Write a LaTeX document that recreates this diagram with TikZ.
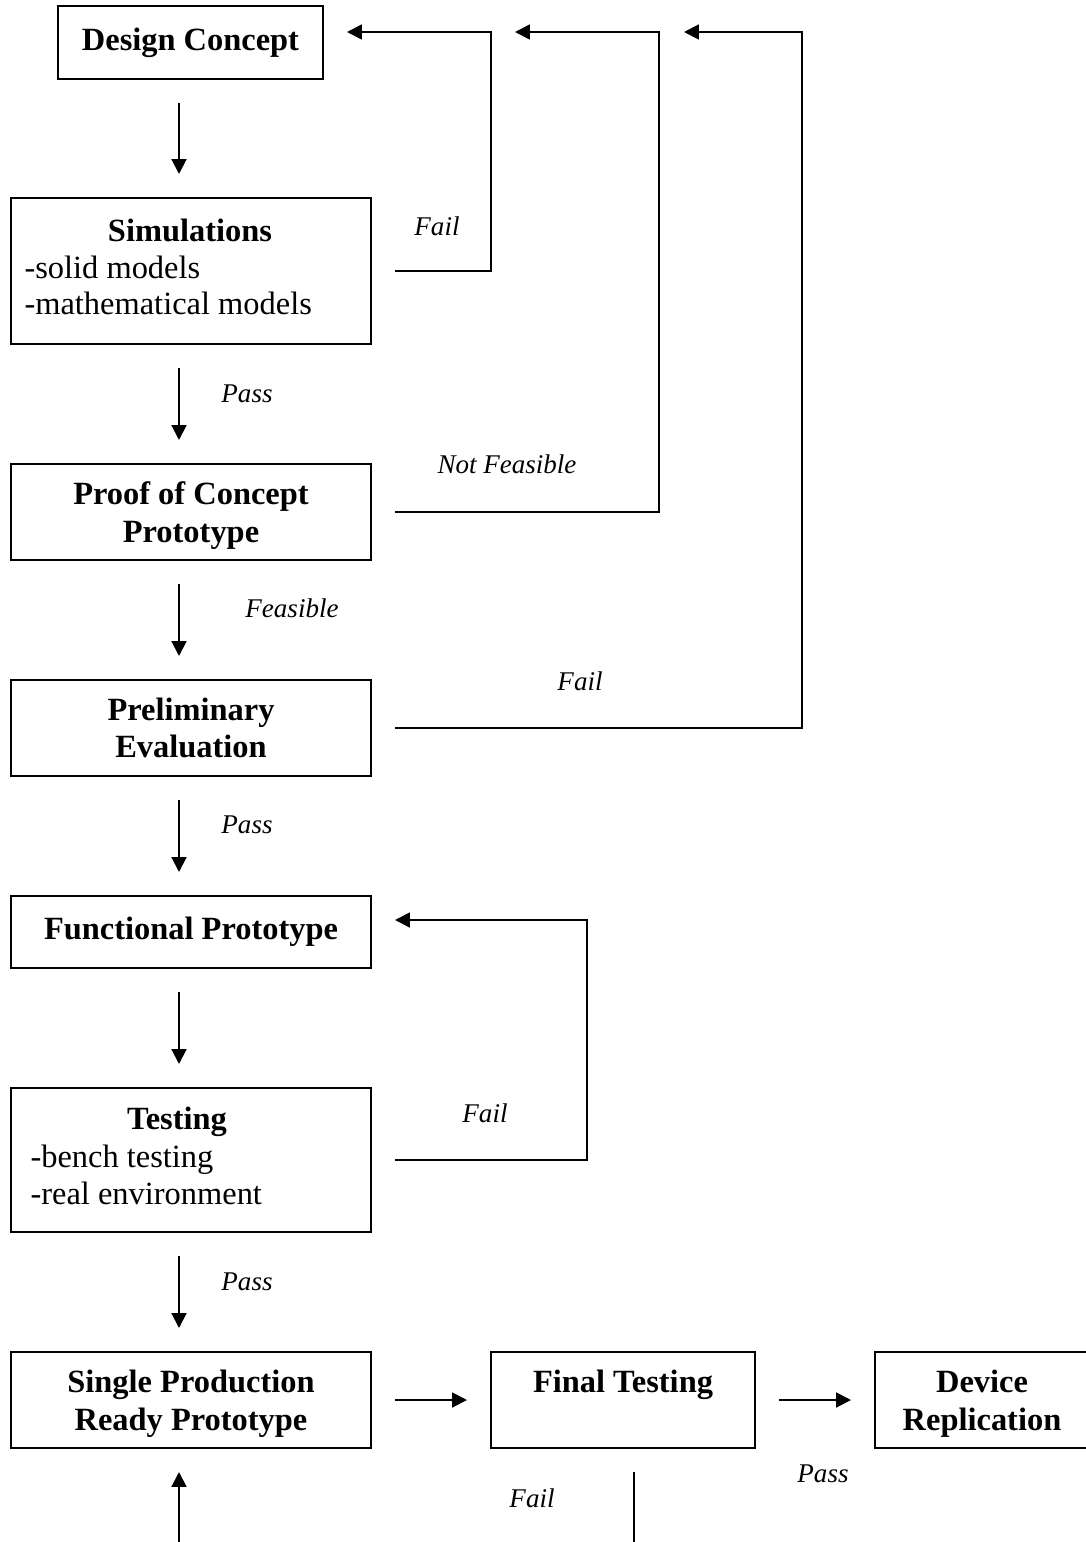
\documentclass[tikz,border=0pt]{standalone}
\usepackage{fontspec}
\setmainfont{Liberation Serif}
\usetikzlibrary{arrows.meta}
\newcommand{\pxu}{0.37pt}
\tikzset{
  box/.style={draw,line width=2*\pxu,inner sep=0pt,outer sep=24*\pxu,align=center,font={\fontsize{12}{14}\selectfont\bfseries}},
  boxtext/.style={inner sep=0pt,anchor=base,font={\fontsize{12}{14}\selectfont}},
  tag/.style={inner sep=0pt,anchor=base,font={\fontsize{10}{12}\selectfont\itshape}},
  flow/.style={line width=2*\pxu,-{Triangle[length=5.5pt,width=5.5pt]}},
  wire/.style={line width=2*\pxu}
}
\begin{document}
\begin{tikzpicture}[x=\pxu,y=-\pxu]
\useasboundingbox (0,0) rectangle (1086,1542);
% main column
\node (design) at (190.5,42.5) [box,minimum width=265*\pxu,minimum height=73*\pxu] {Design Concept};
\node (sim) at (191,271) [box,minimum width=360*\pxu,minimum height=146*\pxu] {};
\node (simhead) at (190,241) [boxtext,font={\fontsize{12}{14}\selectfont\bfseries}] {Simulations};
\node (simitema) at (24,278) [boxtext,anchor=base west] {-solid models};
\node (simitemb) at (24,314) [boxtext,anchor=base west] {-mathematical models};
\node (proof) at (191,512) [box,minimum width=360*\pxu,minimum height=96*\pxu,text depth=0pt] {Proof of Concept\\Prototype};
\node (prelim) at (191,728) [box,minimum width=360*\pxu,minimum height=96*\pxu] {Preliminary\\Evaluation};
\node (func) at (191,932) [box,minimum width=360*\pxu,minimum height=72*\pxu] {Functional Prototype};
\node (test) at (191,1160) [box,minimum width=360*\pxu,minimum height=144*\pxu] {};
\node (testhead) at (177,1129) [boxtext,font={\fontsize{12}{14}\selectfont\bfseries}] {Testing};
\node (testitema) at (30,1167) [boxtext,anchor=base west] {-bench testing};
\node (testitemb) at (30,1204) [boxtext,anchor=base west] {-real environment};
\node (single) at (191,1400) [box,minimum width=360*\pxu,minimum height=96*\pxu,text depth=0pt] {Single Production\\Ready Prototype};
% bottom row
\node (final) at (623,1400) [box,minimum width=264*\pxu,minimum height=96*\pxu] {Final Testing\\~};
\node (device) at (982,1400) [box,minimum width=214*\pxu,minimum height=96*\pxu,text depth=0pt] {Device\\Replication};
% down arrows
\coordinate (col) at (179,0);
\draw[flow] (design.south -| col) -- (sim.north -| col);
\draw[flow] (sim.south -| col) -- (proof.north -| col);
\draw[flow] (proof.south -| col) -- (prelim.north -| col);
\draw[flow] (prelim.south -| col) -- (func.north -| col);
\draw[flow] (func.south -| col) -- (test.north -| col);
\draw[flow] (test.south -| col) -- (single.north -| col);
\draw[flow] (single) -- (final);
\draw[flow] (final) -- (device);
% loops back
\coordinate (loopa) at (491,32);
\coordinate (loopb) at (659,32);
\coordinate (loopc) at (802,32);
\coordinate (tipb) at (515,32);
\coordinate (tipc) at (684,32);
\coordinate (loopd) at (587,920);
\draw[flow] (sim.east) -| (loopa) -- (loopa -| design.east);
\draw[flow] (proof.east) -| (loopb) -- (tipb);
\draw[flow] (prelim.east) -| (loopc) -- (tipc);
\draw[flow] (test.east) -| (loopd) -- (loopd -| func.east);
% lines at the foot
\coordinate (foot) at (179,1542);
\coordinate (failfoot) at (634,1542);
\draw[flow] (foot) -- (single.south -| foot);
\draw[wire] (final.south -| failfoot) -- (failfoot);
% labels
\node (failsim) at (437,235) [tag] {Fail};
\node (passsim) at (247,402) [tag] {Pass};
\node (notfeas) at (507,473) [tag] {Not Feasible};
\node (feas) at (292,617) [tag] {Feasible};
\node (failprelim) at (580,690) [tag] {Fail};
\node (passprelim) at (247,833) [tag] {Pass};
\node (failtest) at (485,1122) [tag] {Fail};
\node (passtest) at (247,1290) [tag] {Pass};
\node (passfinal) at (823,1482) [tag] {Pass};
\node (failfinal) at (532,1507) [tag] {Fail};
\end{tikzpicture}
\end{document}
